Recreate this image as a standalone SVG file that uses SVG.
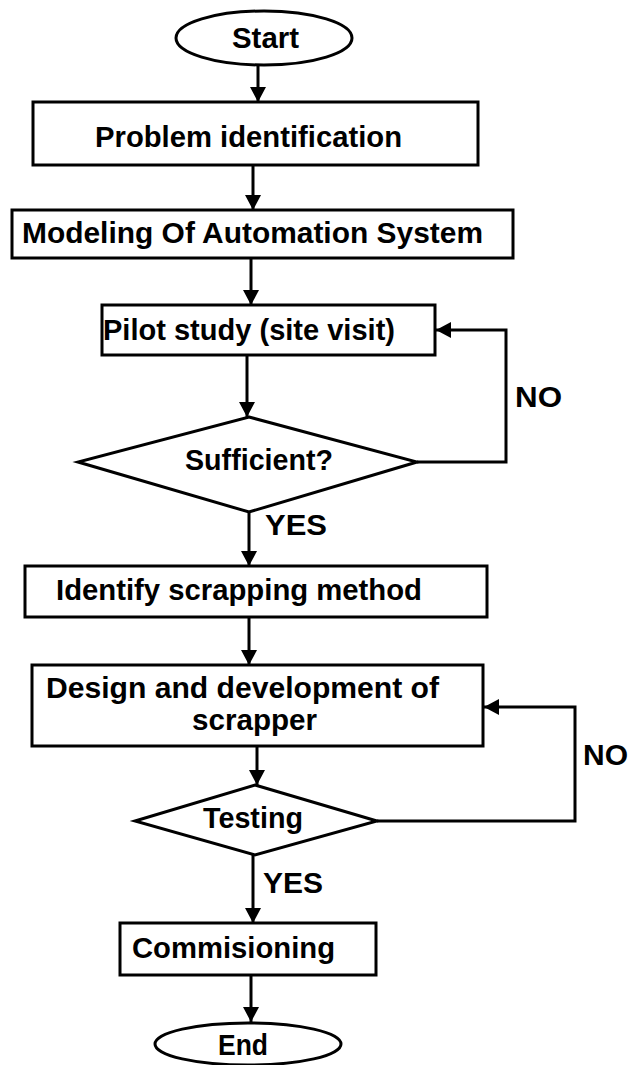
<svg xmlns="http://www.w3.org/2000/svg" width="629" height="1065" viewBox="0 0 629 1065">
<style>
.shape{fill:#fff;stroke:#000;stroke-width:3}
.conn{fill:none;stroke:#000;stroke-width:3}
text{font-family:"Liberation Sans",Arial,sans-serif;font-weight:bold;font-size:29px;fill:#000}
</style>
<defs>
<marker id="ah" markerUnits="userSpaceOnUse" markerWidth="16" markerHeight="16" refX="15" refY="8" orient="auto">
<path d="M0,0 L15,8 L0,16 z" fill="#000"/>
</marker>
</defs>
<rect width="629" height="1065" fill="#fff"/>
<g id="connectors">
<line class="conn" x1="258" y1="65" x2="258" y2="102" marker-end="url(#ah)"/>
<line class="conn" x1="253" y1="165" x2="253" y2="210" marker-end="url(#ah)"/>
<line class="conn" x1="251" y1="258" x2="251" y2="305" marker-end="url(#ah)"/>
<line class="conn" x1="247" y1="355" x2="247" y2="417" marker-end="url(#ah)"/>
<polyline class="conn" points="417,462 506,462 506,330 436,330" marker-end="url(#ah)"/>
<line class="conn" x1="249" y1="512" x2="249" y2="566" marker-end="url(#ah)"/>
<line class="conn" x1="249" y1="617" x2="249" y2="665" marker-end="url(#ah)"/>
<line class="conn" x1="257" y1="746" x2="257" y2="785" marker-end="url(#ah)"/>
<polyline class="conn" points="377,821 575,821 575,707 484,707" marker-end="url(#ah)"/>
<line class="conn" x1="253" y1="855" x2="253" y2="923" marker-end="url(#ah)"/>
<line class="conn" x1="251" y1="975" x2="251" y2="1022" marker-end="url(#ah)"/>
<text x="515" y="407" textLength="47" lengthAdjust="spacingAndGlyphs">NO</text>
<text x="265" y="535" textLength="62" lengthAdjust="spacingAndGlyphs">YES</text>
<text x="583" y="765" textLength="45" lengthAdjust="spacingAndGlyphs">NO</text>
<text x="263" y="893" textLength="60" lengthAdjust="spacingAndGlyphs">YES</text>
</g>
<g id="start">
<ellipse class="shape" cx="264" cy="38" rx="88" ry="27"/>
<text x="232" y="48" textLength="67" lengthAdjust="spacingAndGlyphs">Start</text>
</g>
<g id="problem">
<rect class="shape" x="33" y="102" width="445" height="63"/>
<text x="95" y="147" textLength="307" lengthAdjust="spacingAndGlyphs">Problem identification</text>
</g>
<g id="modeling">
<rect class="shape" x="12" y="210" width="501" height="48"/>
<text x="22" y="243" textLength="461" lengthAdjust="spacingAndGlyphs">Modeling Of Automation System</text>
</g>
<g id="pilot">
<rect class="shape" x="102" y="305" width="333" height="50"/>
<text x="103" y="340" textLength="292" lengthAdjust="spacingAndGlyphs">Pilot study (site visit)</text>
</g>
<g id="sufficient">
<polygon class="shape" points="249,417 417,462 249,512 78,462"/>
<text x="185" y="470" textLength="148" lengthAdjust="spacingAndGlyphs">Sufficient?</text>
</g>
<g id="identify">
<rect class="shape" x="25" y="566" width="462" height="51"/>
<text x="56" y="600" textLength="366" lengthAdjust="spacingAndGlyphs">Identify scrapping method</text>
</g>
<g id="design">
<rect class="shape" x="32" y="665" width="451" height="81"/>
<text x="46" y="698" textLength="393" lengthAdjust="spacingAndGlyphs">Design and development of</text>
<text x="192" y="730" textLength="125" lengthAdjust="spacingAndGlyphs">scrapper</text>
</g>
<g id="testing">
<polygon class="shape" points="255,785 377,821 255,855 135,821"/>
<text x="203" y="828" textLength="100" lengthAdjust="spacingAndGlyphs">Testing</text>
</g>
<g id="commissioning">
<rect class="shape" x="120" y="923" width="256" height="52"/>
<text x="132" y="958" textLength="203" lengthAdjust="spacingAndGlyphs">Commisioning</text>
</g>
<g id="end">
<ellipse class="shape" cx="248" cy="1044" rx="93" ry="21"/>
<text x="218" y="1055" textLength="50" lengthAdjust="spacingAndGlyphs">End</text>
</g>
</svg>
